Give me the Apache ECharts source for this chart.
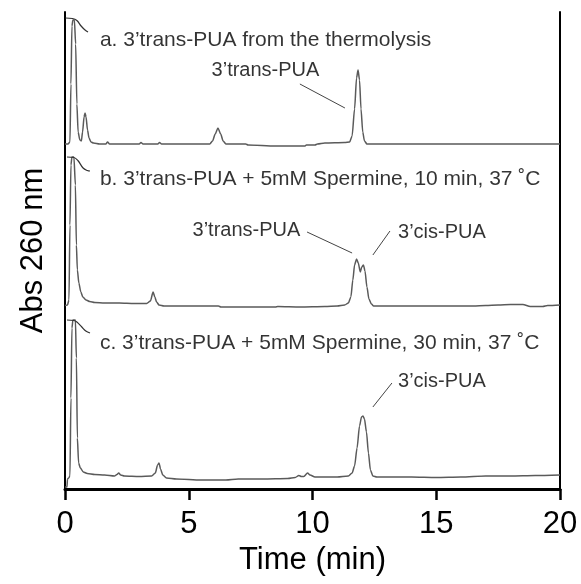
<!DOCTYPE html>
<html>
<head>
<meta charset="utf-8">
<script src="https://cdn.jsdelivr.net/npm/echarts@6/dist/echarts.min.js"></script>
<style>
html,body{margin:0;padding:0;background:#fff;}
#chart{width:581px;height:584px;}
</style>
</head>
<body>
<div id="chart"></div>
<script>
// ---- data (time in min, absorbance in arbitrary units per panel) ----
const timeTicks = [0, 5, 10, 15, 20];
const xTitle = 'Time (min)';
const yTitle = 'Abs 260 nm';

const traceA = [[0,0],[0.12,0],[0.2,2],[0.24,60],[0.28,118],[0.32,124],[0.38,124],[0.43,100],[0.48,40],[0.53,12],[0.6,4],[0.66,3],[0.71,12],[0.77,27],[0.81,31],[0.85,27],[0.91,14],[0.97,6],[1.05,2],[1.15,1],[1.4,0],[1.65,0],[1.72,2],[1.8,0],[2.5,0],[3.0,0],[3.07,1.5],[3.15,0],[3.75,0],[3.82,1.5],[3.9,0],[5.0,0],[5.85,0],[5.96,3],[6.07,10],[6.18,16],[6.29,10],[6.39,3],[6.5,0],[7.3,0],[7.4,-1],[8.5,-2],[9.7,-2],[9.75,-1],[10.1,-1],[10.2,0],[10.5,1],[11.3,1.5],[11.5,2],[11.6,8],[11.7,35],[11.78,66],[11.84,74],[11.9,64],[11.96,35],[12.03,12],[12.1,3],[12.2,0],[14,0],[16,0],[18,0],[20,0]];

const traceB = [[0,-0.5],[0.1,0],[0.16,5],[0.2,80],[0.24,140],[0.28,148],[0.36,148],[0.42,120],[0.46,60],[0.5,35],[0.56,22],[0.64,13],[0.72,8],[0.85,5],[1.0,3.5],[1.2,2.5],[1.6,2],[2.2,2],[2.8,1.5],[3.3,1.5],[3.45,4],[3.56,13],[3.63,8],[3.7,3],[3.8,0],[4.0,-1],[5,-1],[6.2,-1],[6.3,-2],[7.5,-2],[8.5,-2],[8.6,-1.5],[9.5,-2],[10.5,-1.5],[11.0,-1],[11.3,0],[11.45,2],[11.55,8],[11.63,25],[11.7,40],[11.78,46],[11.85,42],[11.93,33],[11.99,38],[12.06,40],[12.12,34],[12.2,18],[12.28,6],[12.38,1],[12.47,-1],[13,-1],[14.5,-1],[15.5,-1],[16.5,-1],[17,-0.5],[17.5,0],[18,0.5],[18.5,0.5],[18.8,-1.5],[19.3,-1.5],[19.5,-0.5],[20,0]];

const traceC = [[0,-9],[0.08,-9],[0.1,-1],[0.15,0],[0.2,2],[0.24,80],[0.28,150],[0.32,158],[0.42,158],[0.46,120],[0.5,40],[0.55,15],[0.62,10],[0.74,6],[0.9,4.5],[1.2,3.5],[1.6,3],[2.0,2],[2.1,3.5],[2.17,5],[2.25,3],[2.4,2],[3.0,1.5],[3.5,2],[3.65,5],[3.74,13],[3.8,15],[3.86,9],[3.95,3],[4.1,0],[4.5,-1],[5.5,-2],[6.5,-2],[7.0,-1],[8.0,-1],[9.0,-0.5],[9.3,0.5],[9.45,2.5],[9.55,1.5],[9.65,1.5],[9.8,5],[9.9,3],[10.1,1],[11,1],[11.45,2],[11.6,5],[11.7,12],[11.8,30],[11.9,52],[11.98,61],[12.04,62],[12.1,59],[12.18,46],[12.26,25],[12.34,8],[12.44,2],[12.6,1],[14,1],[15,0.5],[16,1],[17,2],[18,2],[19,2.5],[20,3]];

// curved leader hooks at the off-scale solvent peaks
const hookA = [[0.02,126],[0.3,125.5],[0.48,123.5],[0.65,118],[0.81,114],[0.93,112]];
const hookB = [[0.08,148],[0.36,147.5],[0.52,144.5],[0.73,137],[0.9,134.5],[1.01,134]];
const hookC = [[0.08,158],[0.36,157.5],[0.48,156],[0.68,151],[0.84,147],[1.01,145]];

const panelLabels = ['a. 3\u2019trans-PUA from the thermolysis',
                     'b. 3\u2019trans-PUA + 5mM Spermine, 10 min, 37 \u02DAC',
                     'c. 3\u2019trans-PUA + 5mM Spermine, 30 min, 37 \u02DAC'];
const panelLabelAt = [[1.41,104],[1.41,126],[1.41,135]];

const peakLabels = [
  {panel:0, text:'3\u2019trans-PUA', at:[8.10,74], line:[[9.49,60],[11.31,36]]},
  {panel:1, text:'3\u2019trans-PUA', at:[7.33,75], line:[[9.78,73],[11.6,52]]},
  {panel:1, text:'3\u2019cis-PUA',   at:[15.23,73], line:[[13.13,74],[12.44,50]]},
  {panel:2, text:'3\u2019cis-PUA',   at:[15.23,97], line:[[13.21,95],[12.44,71]]}
];

// per-panel value ranges
const panelMin = [-4, -7, -11];
const panelMax = [132, 157, 166];

// ---- chart ----
const FONT = '"Liberation Sans", Arial, Helvetica, sans-serif';
const TRACE = '#5a5a5a';
const L = 65, W = 495;
const panelTop = [12, 148, 312];
const panelH = [136, 164, 177];

const grids = [{left:L, width:W, top:12, height:477}];
for (let i=0;i<3;i++) grids.push({left:L, width:W, top:panelTop[i], height:panelH[i]});

const xAxes = [
  {gridIndex:0, type:'value', min:timeTicks[0], max:timeTicks[timeTicks.length-1], interval:timeTicks[1]-timeTicks[0],
   position:'bottom',
   axisLine:{show:true, lineStyle:{color:'#000', width:3}},
   axisTick:{show:true, inside:false, length:11, lineStyle:{color:'#000', width:2.5}},
   axisLabel:{show:true, color:'#000', fontSize:31, fontFamily:FONT, margin:20},
   splitLine:{show:false},
   name:xTitle, nameLocation:'middle', nameGap:55,
   nameTextStyle:{color:'#000', fontSize:31, fontFamily:FONT}},
  {gridIndex:0, type:'value', min:0, max:20, position:'top',
   axisLine:{show:true, lineStyle:{color:'#000', width:2}},
   axisTick:{show:false}, axisLabel:{show:false}, splitLine:{show:false}}
];
const yAxes = [
  {gridIndex:0, type:'value', min:0, max:1, position:'left',
   axisLine:{show:true, onZero:false, lineStyle:{color:'#000', width:2}},
   axisTick:{show:false}, axisLabel:{show:false}, splitLine:{show:false},
   name:yTitle, nameLocation:'middle', nameGap:16,
   nameTextStyle:{color:'#000', fontSize:31, fontFamily:FONT}},
  {gridIndex:0, type:'value', min:0, max:1, position:'right',
   axisLine:{show:true, onZero:false, lineStyle:{color:'#000', width:2}},
   axisTick:{show:false}, axisLabel:{show:false}, splitLine:{show:false}}
];
for (let i=0;i<3;i++){
  xAxes.push({gridIndex:i+1, type:'value', min:0, max:20, show:false});
  yAxes.push({gridIndex:i+1, type:'value', min:panelMin[i], max:panelMax[i], show:false});
}

const series = [];
const traces = [traceA, traceB, traceC];
const hooks = [hookA, hookB, hookC];
for (let i=0;i<3;i++){
  series.push({type:'line', xAxisIndex:i+2, yAxisIndex:i+2, data:traces[i], showSymbol:false, symbol:'none',
    smooth:0.25, smoothMonotone:'x', lineStyle:{color:TRACE, width:1.5}, z:3});
  series.push({type:'line', xAxisIndex:i+2, yAxisIndex:i+2, data:hooks[i], showSymbol:false, symbol:'none',
    smooth:0.4, lineStyle:{color:'#333', width:1.2}, z:4});
  series.push({type:'scatter', xAxisIndex:i+2, yAxisIndex:i+2, data:[panelLabelAt[i]], symbolSize:0,
    label:{show:true, position:'right', distance:0, formatter:panelLabels[i], color:'#000', fontSize:21, fontFamily:FONT}, z:5});
}
peakLabels.forEach(p=>{
  series.push({type:'line', xAxisIndex:p.panel+2, yAxisIndex:p.panel+2, data:p.line, showSymbol:false, symbol:'none',
    lineStyle:{color:'#444', width:1}, z:4});
  series.push({type:'scatter', xAxisIndex:p.panel+2, yAxisIndex:p.panel+2, data:[p.at], symbolSize:0,
    label:{show:true, position:'inside', formatter:p.text, color:'#000', fontSize:20, fontFamily:FONT}, z:5});
});

const chart = echarts.init(document.getElementById('chart'), null, {renderer:'canvas'});
chart.setOption({animation:false, backgroundColor:'#fff', grid:grids, xAxis:xAxes, yAxis:yAxes, series:series});
</script>
</body>
</html>
